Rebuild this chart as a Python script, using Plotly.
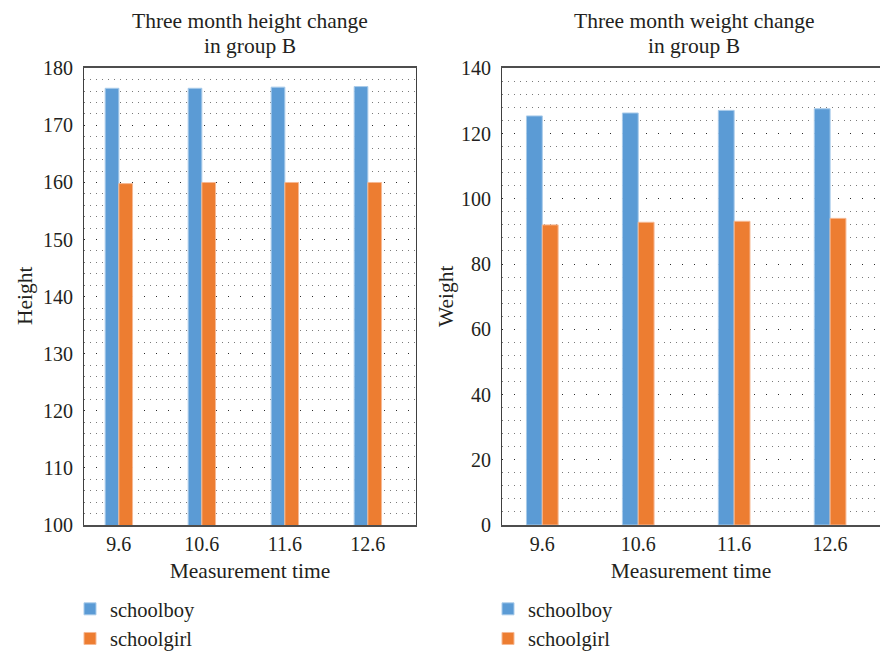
import plotly.graph_objects as go

# ---- data ----
times = ["9.6", "10.6", "11.6", "12.6"]
height_boy = [176.5, 176.5, 176.7, 176.8]
height_girl = [159.8, 160.0, 160.0, 160.0]
weight_boy = [125.4, 126.3, 127.1, 127.6]
weight_girl = [92.0, 92.8, 93.1, 94.0]
series_names = ["schoolboy", "schoolgirl"]
title_lines = [["Three month height change", "in group B"], ["Three month weight change", "in group B"]]
y_titles = ["Height", "Weight"]
x_title = "Measurement time"

W, H = 880, 654
BLUE, ORANGE = "#5B9BD5", "#ED7D31"
BLUE_EDGE, ORANGE_EDGE = "#A9CBEA", "#F6B994"
TXT = "#231F20"
FONT = "Liberation Serif"

def px(x):
    return x / W

def py(y):
    return 1 - y / H

fig = go.Figure()
fig.add_bar(x=times, y=height_boy, name=series_names[0], marker=dict(color=BLUE, line=dict(color=BLUE_EDGE, width=1)),
            xaxis="x", yaxis="y", legend="legend")
fig.add_bar(x=times, y=height_girl, name=series_names[1], marker=dict(color=ORANGE, line=dict(color=ORANGE_EDGE, width=1)),
            xaxis="x", yaxis="y", legend="legend")
fig.add_bar(x=times, y=weight_boy, name=series_names[0], marker=dict(color=BLUE, line=dict(color=BLUE_EDGE, width=1)),
            xaxis="x2", yaxis="y2", legend="legend2")
fig.add_bar(x=times, y=weight_girl, name=series_names[1], marker=dict(color=ORANGE, line=dict(color=ORANGE_EDGE, width=1)),
            xaxis="x2", yaxis="y2", legend="legend2")

ydom = [py(525), py(68.3)]
common_x = dict(type="category", showgrid=False, showline=True, linecolor="#4d4d4d", linewidth=1.5,
                mirror=True, ticks="", tickfont=dict(size=20, color=TXT), fixedrange=True,
                ticklabelstandoff=0,
                title=dict(text=x_title, font=dict(size=21.5, color=TXT), standoff=9))
common_y = dict(showline=True, linecolor="#404040", linewidth=1, ticks="", tickfont=dict(size=20, color=TXT),
                showgrid=True, gridcolor="#2b2b2b", gridwidth=1, griddash="1px,11px", zeroline=False,
                ticklabelstandoff=6)

annotations = []
for cx, lines in zip([250, 694], title_lines):
    for cy, line in zip([21, 46], lines):
        annotations.append(dict(text=line, x=px(cx), y=py(cy), xref="paper", yref="paper", showarrow=False,
                                font=dict(size=21.5, color=TXT), xanchor="center", yanchor="middle"))
for cx, t in zip([25, 446], y_titles):
    annotations.append(dict(text=t, x=px(cx), y=py(296), xref="paper", yref="paper", showarrow=False,
                            textangle=-90, font=dict(size=21.5, color=TXT), xanchor="center", yanchor="middle"))

fig.update_layout(
    width=W, height=H,
    margin=dict(l=0, r=0, t=0, b=0, autoexpand=False),
    paper_bgcolor="white", plot_bgcolor="white",
    font=dict(family=FONT, color=TXT, size=20),
    barmode="group", bargap=0.67, bargroupgap=0,
    xaxis=dict(common_x, domain=[px(84), px(416)], range=[-0.42, 3.58], anchor="y"),
    yaxis=dict(common_y, domain=ydom, range=[100, 180], dtick=10, mirror=True, anchor="x",
               minor=dict(dtick=2, showgrid=True, gridcolor="#7a7a7a", gridwidth=1, griddash="1px,5px")),
    xaxis2=dict(common_x, domain=[px(502), 1.0], range=[-0.42, 3.52], anchor="y2"),
    yaxis2=dict(common_y, domain=ydom, range=[0, 140], dtick=20, mirror=False, anchor="x2",
                minor=dict(dtick=4, showgrid=True, gridcolor="#7a7a7a", gridwidth=1, griddash="1px,5px")),
    legend=dict(x=px(70), y=py(589), xanchor="left", yanchor="top", font=dict(size=20.5, color=TXT),
                bgcolor="rgba(0,0,0,0)", tracegroupgap=0),
    legend2=dict(x=px(488), y=py(589), xanchor="left", yanchor="top", font=dict(size=20.5, color=TXT),
                 bgcolor="rgba(0,0,0,0)", tracegroupgap=0),
    annotations=annotations,
)

fig.write_html("out.html")
